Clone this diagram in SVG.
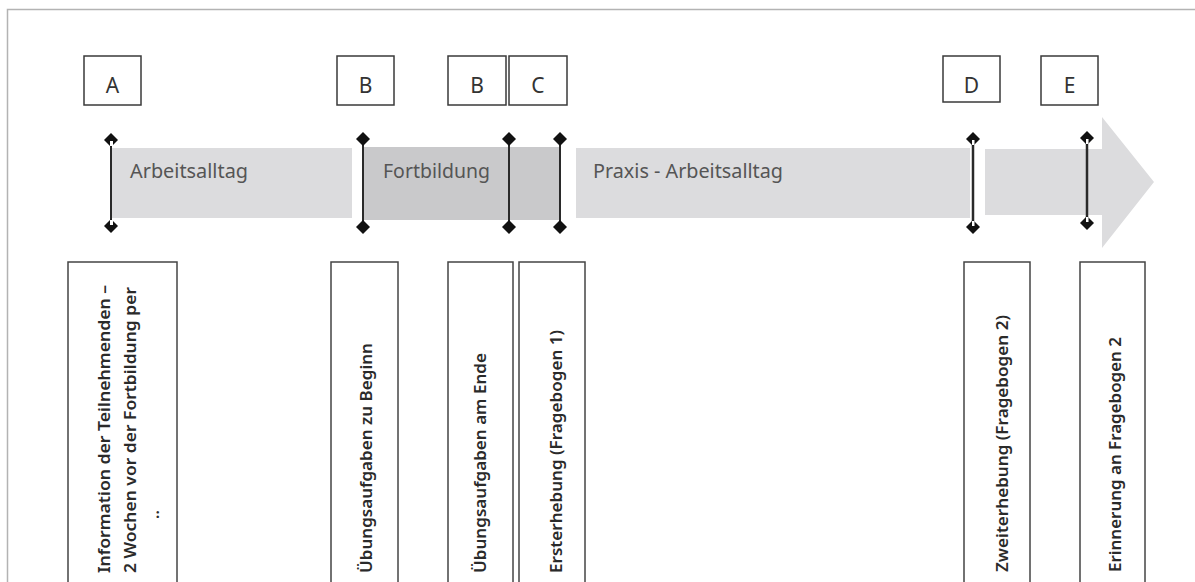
<svg xmlns="http://www.w3.org/2000/svg" width="1195" height="582" viewBox="0 0 1195 582">
<style>
.frame{fill:none;stroke:#b3b3b3;stroke-width:1.5}
.lbox{fill:#fff;stroke:#3a3a3a;stroke-width:1.5}
.ltxt{font-family:"Noto Sans","Open Sans",sans-serif;font-size:21px;fill:#333;text-anchor:middle}
.bar{fill:#dcdcde}
.bar2{fill:#c9c9cb}
.btxt{font-family:"Noto Sans","Open Sans",sans-serif;font-size:19px;fill:#555}
.vline{stroke:#2a2a2a;stroke-width:2}
.dia{fill:#111}
.hole{fill:#fff}
.tbox{fill:#fff;stroke:#444;stroke-width:1.5}
.vtxt{font-family:"Noto Sans","Open Sans",sans-serif;font-size:16px;font-weight:600;fill:#2a2a2a}
</style>
<rect width="1195" height="582" fill="#fff"/>
<rect class="frame" x="7.5" y="9.5" width="1200" height="600"/>

<g id="bars">
<rect class="bar" x="112" y="148" width="240" height="70"/>
<text class="btxt" x="130" y="178" textLength="118" lengthAdjust="spacingAndGlyphs">Arbeitsalltag</text>
<rect class="bar2" x="363" y="147" width="197" height="73"/>
<text class="btxt" x="383" y="178" textLength="107" lengthAdjust="spacingAndGlyphs">Fortbildung</text>
<rect class="bar" x="576" y="148" width="394" height="70"/>
<text class="btxt" x="593" y="178" textLength="190" lengthAdjust="spacingAndGlyphs">Praxis - Arbeitsalltag</text>
<polygon class="bar" points="985,149 1102,149 1102,117 1154,182 1102,248 1102,215 985,215"/>
</g>

<g id="node-A">
<rect class="lbox" x="84" y="56" width="57" height="49"/>
<text class="ltxt" x="112.5" y="93">A</text>
</g>
<g id="node-B1">
<rect class="lbox" x="337" y="56" width="57" height="49"/>
<text class="ltxt" x="365.5" y="93">B</text>
</g>
<g id="node-B2">
<rect class="lbox" x="448" y="56" width="58" height="49"/>
<text class="ltxt" x="477" y="93">B</text>
</g>
<g id="node-C">
<rect class="lbox" x="509" y="56" width="58" height="49"/>
<text class="ltxt" x="538" y="93">C</text>
</g>
<g id="node-D">
<rect class="lbox" x="943" y="56" width="57" height="46"/>
<text class="ltxt" x="971.5" y="93">D</text>
</g>
<g id="node-E">
<rect class="lbox" x="1041" y="56" width="57" height="49"/>
<text class="ltxt" x="1069.5" y="93">E</text>
</g>

<g id="connectors">
<line class="vline" x1="111" y1="140" x2="111" y2="226"/>
<polygon class="dia" points="111,133 118,140 111,147 104,140"/>
<polygon class="dia" points="111,219 118,226 111,233 104,226"/>
<rect class="hole" x="110" y="141" width="3" height="5"/>
<rect class="hole" x="110" y="220" width="3" height="5"/>

<line class="vline" x1="363" y1="139" x2="363" y2="227"/>
<polygon class="dia" points="363,132 370,139 363,146 356,139"/>
<polygon class="dia" points="363,220 370,227 363,234 356,227"/>

<line class="vline" x1="509" y1="139" x2="509" y2="227"/>
<polygon class="dia" points="509,132 516,139 509,146 502,139"/>
<polygon class="dia" points="509,220 516,227 509,234 502,227"/>

<line class="vline" x1="560" y1="139" x2="560" y2="227"/>
<polygon class="dia" points="560,132 567,139 560,146 553,139"/>
<polygon class="dia" points="560,220 567,227 560,234 553,227"/>

<line class="vline" x1="973" y1="139" x2="973" y2="227" style="stroke-width:2.5"/>
<polygon class="dia" points="973,132 980,139 973,146 966,139"/>
<polygon class="dia" points="973,220 980,227 973,234 966,227"/>
<rect class="hole" x="972" y="140" width="2.5" height="5"/>
<rect class="hole" x="972" y="221" width="2.5" height="5"/>

<line class="vline" x1="1087" y1="138" x2="1087" y2="223" style="stroke-width:2.5"/>
<polygon class="dia" points="1087,131 1094,138 1087,145 1080,138"/>
<polygon class="dia" points="1087,216 1094,223 1087,230 1080,223"/>
<rect class="hole" x="1086" y="139" width="2.5" height="5"/>
<rect class="hole" x="1086" y="217" width="2.5" height="5"/>
</g>

<g id="box-A">
<rect class="tbox" x="68" y="262" width="109" height="330"/>
<text class="vtxt" transform="translate(110,573) rotate(-90)" textLength="288" lengthAdjust="spacingAndGlyphs">Information der Teilnehmenden –</text>
<text class="vtxt" transform="translate(136,573) rotate(-90)" textLength="286" lengthAdjust="spacingAndGlyphs">2 Wochen vor der Fortbildung per</text>
<text class="vtxt" transform="translate(159,519) rotate(-90)">..</text>
</g>
<g id="box-B1">
<rect class="tbox" x="331" y="262" width="67" height="330"/>
<text class="vtxt" transform="translate(372,573) rotate(-90)" textLength="230" lengthAdjust="spacingAndGlyphs">Übungsaufgaben zu Beginn</text>
</g>
<g id="box-B2">
<rect class="tbox" x="448" y="262" width="65" height="330"/>
<text class="vtxt" transform="translate(486,573) rotate(-90)" textLength="220" lengthAdjust="spacingAndGlyphs">Übungsaufgaben am Ende</text>
</g>
<g id="box-C">
<rect class="tbox" x="519" y="262" width="66" height="330"/>
<text class="vtxt" transform="translate(562,573) rotate(-90)" textLength="243" lengthAdjust="spacingAndGlyphs">Ersterhebung (Fragebogen 1)</text>
</g>
<g id="box-D">
<rect class="tbox" x="964" y="262" width="66" height="330"/>
<text class="vtxt" transform="translate(1008,572) rotate(-90)" textLength="257" lengthAdjust="spacingAndGlyphs">Zweiterhebung (Fragebogen 2)</text>
</g>
<g id="box-E">
<rect class="tbox" x="1080" y="262" width="65" height="330"/>
<text class="vtxt" transform="translate(1121,572) rotate(-90)" textLength="235" lengthAdjust="spacingAndGlyphs">Erinnerung an Fragebogen 2</text>
</g>
</svg>
